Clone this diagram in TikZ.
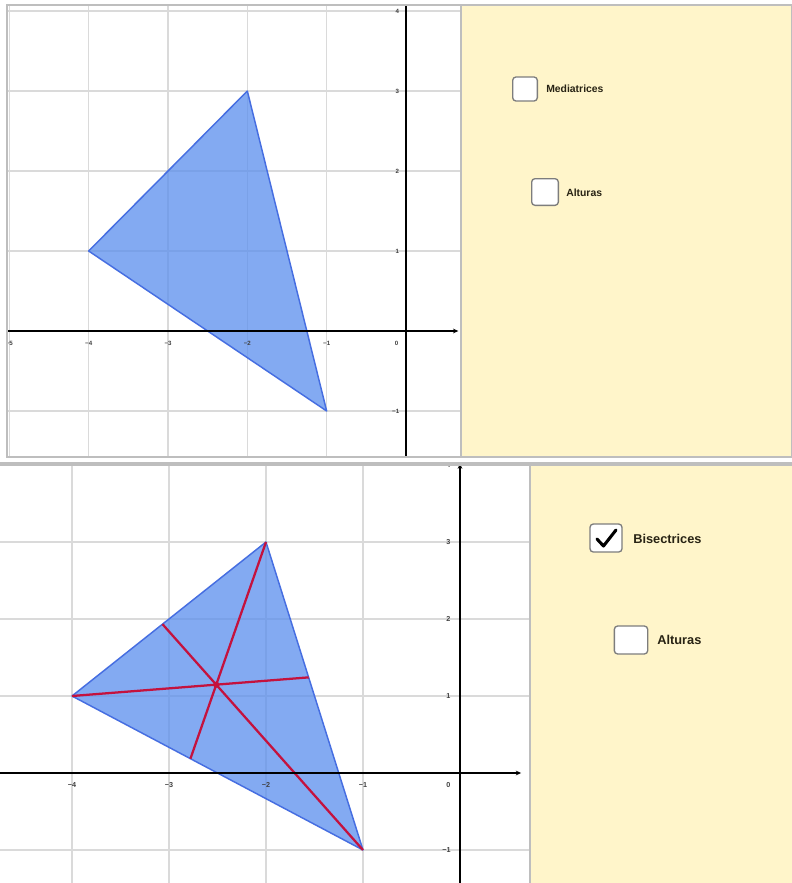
\documentclass[tikz,border=0pt]{standalone}
\usepackage{fontspec}
\setmainfont{Liberation Sans}
\usetikzlibrary{arrows.meta}
\definecolor{panelyellow}{RGB}{255,245,202}
\definecolor{framegrey}{RGB}{190,190,190}
\definecolor{gridgrey}{RGB}{218,218,218}
\definecolor{trifill}{RGB}{90,142,238}
\definecolor{triedge}{RGB}{70,110,225}
\definecolor{bisred}{RGB}{196,18,62}
\definecolor{boxgrey}{RGB}{125,125,125}
\definecolor{labtext}{RGB}{40,35,20}
\begin{document}
\begin{tikzpicture}[x=0.75pt,y=-0.75pt,
  gridline/.style={gridgrey, line width=0.8pt},
  axisline/.style={black, line width=1.1pt},
  axisarrow/.style={axisline, -{Stealth[length=4pt,width=3.5pt]}},
  tri/.style={fill=trifill, fill opacity=0.75, draw=triedge, line width=1.1pt, line join=round},
  bisline/.style={bisred, line width=1.7pt},
  ticklabA/.style={font=\bfseries\fontsize{4.6}{5}\selectfont, text=black!75, inner sep=0pt},
  ticklabB/.style={font=\bfseries\fontsize{5.4}{6}\selectfont, text=black!75, inner sep=0pt},
  cbox/.style={draw=boxgrey, fill=white, rounded corners=2.5pt, line width=1pt, inner sep=0pt},
  cblabA/.style={font=\bfseries\fontsize{7.8}{9}\selectfont, anchor=west, inner sep=0pt, text=labtext},
  cblabB/.style={font=\bfseries\fontsize{9.6}{11}\selectfont, anchor=west, inner sep=0pt, text=labtext},
  frame/.style={framegrey, line width=1.6pt},
]
\useasboundingbox (0,0) rectangle (792,883);
\fill[white] (0,0) rectangle (792,883);

%================ TOP PANEL ================
\fill[panelyellow] (461,6) rectangle (792,456);
\begin{scope}
  \clip (8,6) rectangle (460,456);
  \begin{scope}[shift={(406,331)}, x=59.5pt, y=60pt]
    \foreach \i in {-5,...,-1} \draw[gridline] (\i,-2) -- (\i,5);
    \foreach \j in {-2,-1,1,2,3,4} \draw[gridline] (-6,\j) -- (2,\j);
    \coordinate (A1) at (-4,1);
    \coordinate (B1) at (-2,3);
    \coordinate (C1) at (-1,-1);
    \draw[tri] (A1) -- (B1) -- (C1) -- cycle;
    \coordinate (xl1) at (-5.2,0);
    \coordinate (xr1) at (0.66,0);
    \coordinate (yb1) at (0,-1.7);
    \coordinate (yt1) at (0,4.2);
    \draw[axisarrow] (xl1) -- (xr1);
    \draw[axisline] (yb1) -- (yt1);
    \foreach \i/\t in {-5/{−5},-4/{−4},-3/{−3},-2/{−2},-1/{−1}}
      \node[ticklabA] (tx1\i) at (\i,-0.15) {\t};
    \node[ticklabA] (tx10) at (-0.12,-0.15) {0};
    \foreach \j/\t in {1/1,2/2,3/3,4/4}
      \node[ticklabA] (ty1\j) at (-0.11,\j) {\t};
    \node[ticklabA] (ty1m) at (-0.13,-1) {−1};
  \end{scope}
\end{scope}
% frame of top panel
\draw[frame] (7,5) rectangle (792,457);
\draw[frame] (461,5) -- (461,457);

% checkboxes top
\node[cbox, minimum width=18.5pt, minimum height=18pt] (cbT1) at (525,89) {};
\node[cblabA] (lbT1) at (546,89) {Mediatrices};
\node[cbox, minimum width=20pt, minimum height=20pt] (cbT2) at (545,192) {};
\node[cblabA] (lbT2) at (566,193) {Alturas};

%================ BOTTOM PANEL ================
\fill[panelyellow] (531,465) rectangle (792,883);
\begin{scope}
  \clip (0,465) rectangle (530,883);
  \begin{scope}[shift={(460,773)}, x=72.75pt, y=57.75pt]
    \foreach \i in {-5,...,-1} \draw[gridline] (\i,-2) -- (\i,5);
    \foreach \j in {-2,-1,1,2,3,4} \draw[gridline] (-6,\j) -- (2,\j);
    \coordinate (A2) at (-4,1);
    \coordinate (B2) at (-2,3);
    \coordinate (C2) at (-1,-1);
    \coordinate (D2) at (-1.560,1.242);
    \coordinate (E2) at (-2.779,0.186);
    \coordinate (F2) at (-3.067,1.933);
    \coordinate (I2) at (-2.513,1.147);
    \draw[tri] (A2) -- (B2) -- (C2) -- cycle;
    \draw[bisline] (A2) -- (D2);
    \draw[bisline] (B2) -- (E2);
    \draw[bisline] (C2) -- (F2);
    \fill[bisred] (I2) circle (2.3pt);
    \coordinate (xl2) at (-5,0);
    \coordinate (xr2) at (0.63,0);
    \coordinate (yb2) at (0,-1.6);
    \coordinate (yt2) at (0,4.02);
    \draw[axisarrow] (xl2) -- (xr2);
    \draw[axisarrow] (yb2) -- (yt2);
    \foreach \i/\t in {-4/{−4},-3/{−3},-2/{−2},-1/{−1}}
      \node[ticklabB] (tx2\i) at (\i,-0.16) {\t};
    \node[ticklabB] (tx20) at (-0.12,-0.16) {0};
    \foreach \j/\t in {1/1,2/2,3/3,4/4}
      \node[ticklabB] (ty2\j) at (-0.12,\j) {\t};
    \node[ticklabB] (ty2m) at (-0.14,-1) {−1};
  \end{scope}
\end{scope}
\draw[framegrey, line width=2.4pt] (0,464) -- (792,464);
\draw[framegrey, line width=2pt] (530,464) -- (530,883);

% checkboxes bottom
\node[cbox, minimum width=24pt, minimum height=21pt] (cbB1) at (606,538) {};
\coordinate (ck1) at (597,539);
\coordinate (ck2) at (603.5,546);
\coordinate (ck3) at (616,530);
\draw[black, line width=2.3pt, line cap=round, line join=round] (ck1) -- (ck2) -- (ck3);
\node[cblabB] (lbB1) at (633,539) {Bisectrices};
\node[cbox, minimum width=25pt, minimum height=21pt] (cbB2) at (631,640) {};
\node[cblabB] (lbB2) at (657,640) {Alturas};
\end{tikzpicture}
\end{document}
